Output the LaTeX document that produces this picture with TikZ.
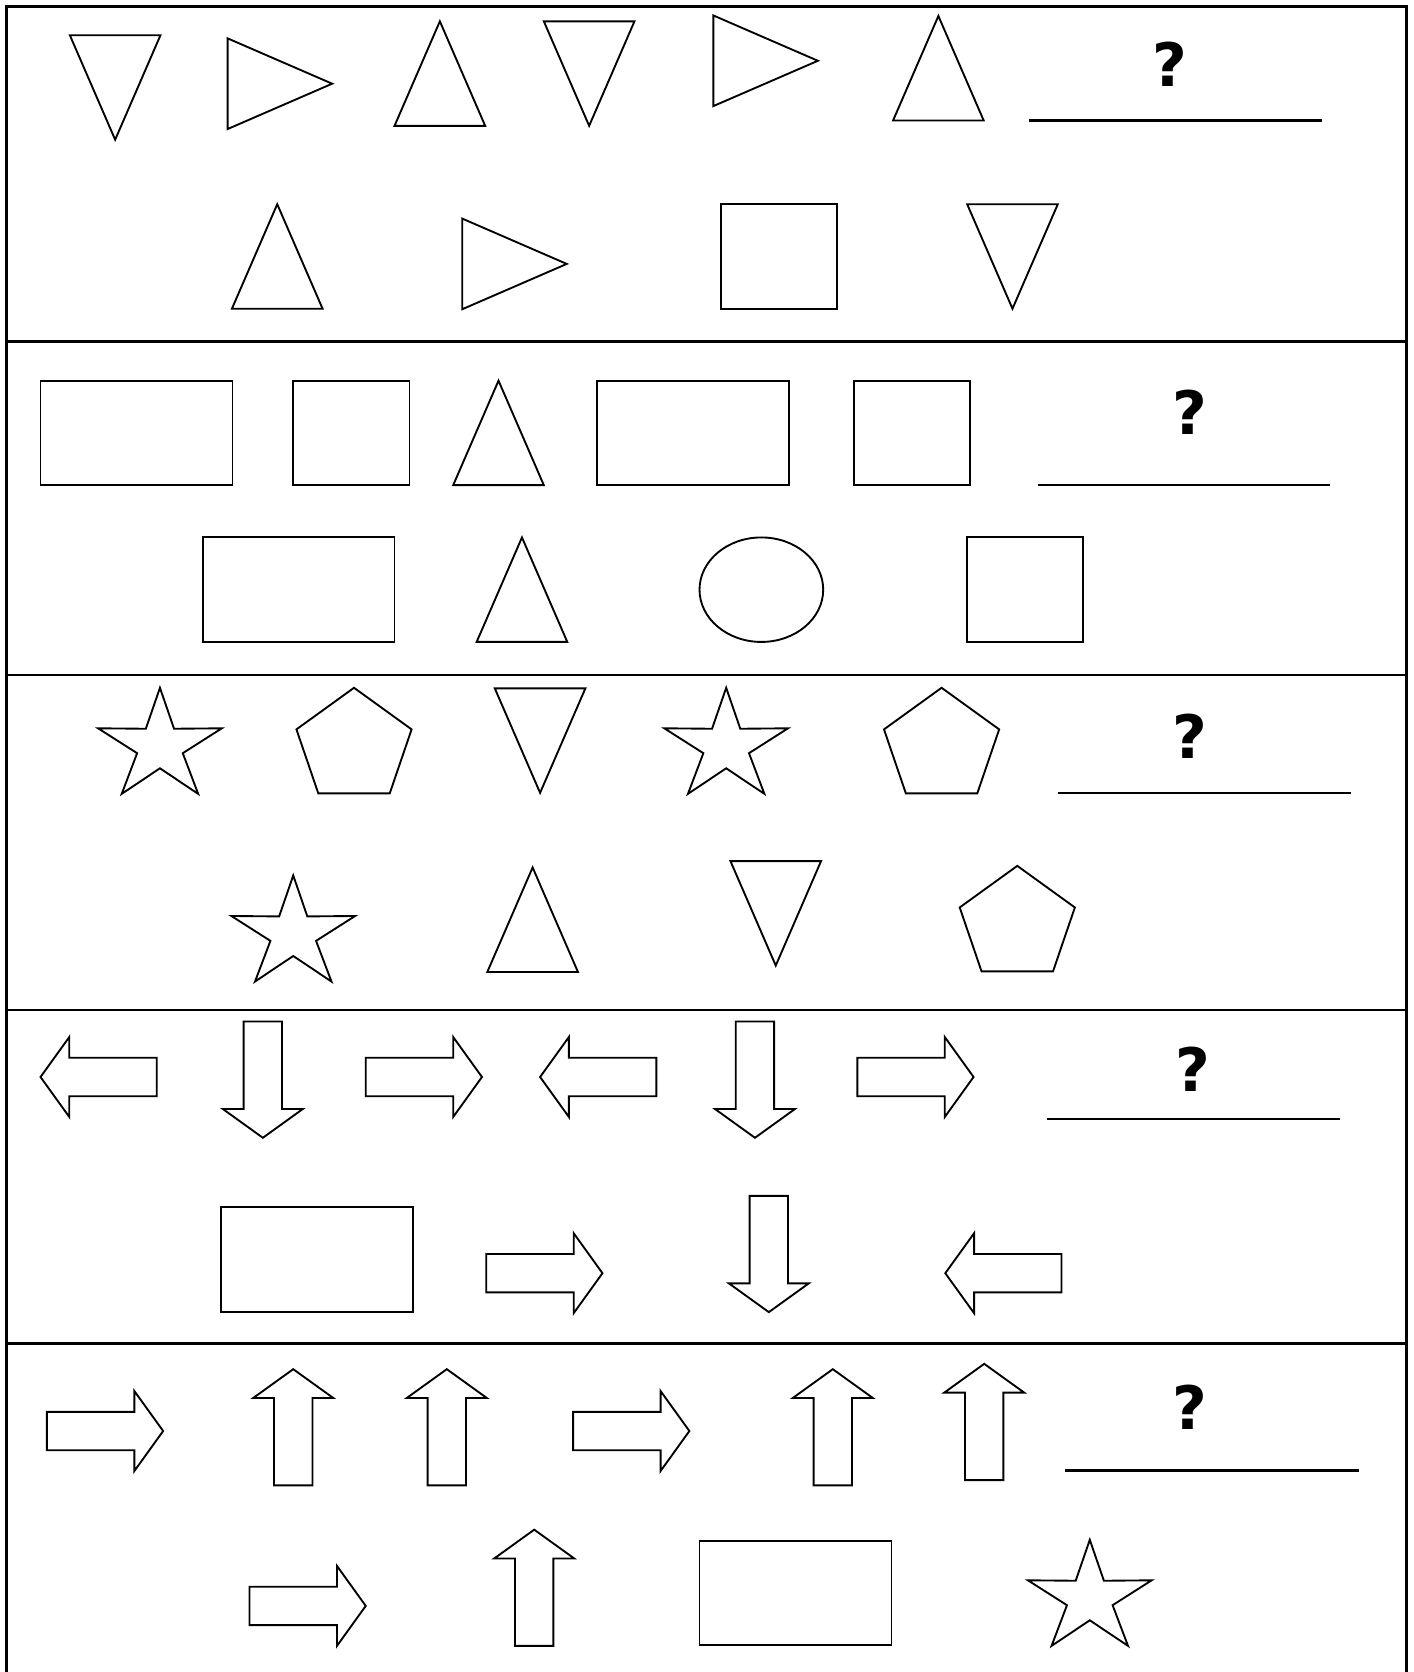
\documentclass[tikz,border=0pt]{standalone}
\usepackage{fontspec}
\setmainfont{DejaVu Sans}
\begin{document}
\begin{tikzpicture}[x=0.02cm,y=-0.02cm,
  outline/.style={draw=black,line width=1pt,line join=miter},
  frame/.style={black,line width=1.4pt},
  blank/.style={black,line width=1.1pt},
  query/.style={font=\fontsize{32}{36}\bfseries\selectfont,inner sep=0pt},
  wedge/.pic={\draw[outline] (-42.5,49) -- (0,-49) -- (42.5,49) -- cycle;},
  pointer/.pic={\draw[outline] (-54.5,-18) -- (27.5,-18) -- (27.5,-37.5) -- (54.5,0)
    -- (27.5,37.5) -- (27.5,18) -- (-54.5,18) -- cycle;},
  pentbox/.pic={\draw[outline] (0,-55) -- (54,-16) -- (33.5,44) -- (-33.5,44) -- (-54,-16) -- cycle;},
  starbox/.pic={\draw[outline] (-90:61 and 55)
    \foreach \k in {0,...,4}{ -- ({-54+72*\k}:22.5 and 20.5) -- ({-18+72*\k}:61 and 55)} -- cycle;}]
\useasboundingbox (0,0) rectangle (1326,1568);
% frame and panels
\draw[frame] (6,1570) -- (6,6) -- (1319,6) -- (1319,1570);
\foreach \y in {320,633,947,1260}
  \draw[frame] (6,\y) -- (1319,\y);
% panel 1
\pic[rotate=180] at (108,82) {wedge};
\pic[rotate=-90] at (262.5,78.5) {wedge};
\pic at (412.5,69) {wedge};
\pic[rotate=180] at (552.5,69) {wedge};
\pic[rotate=-90] at (718,57) {wedge};
\pic at (880,64) {wedge};
\node[query] (q1) at (1097,60) {?};
\draw[blank] (965,113) -- (1240,113);
\pic at (260,240.5) {wedge};
\pic[rotate=-90] at (482.5,247.5) {wedge};
\draw[outline] (676,191) rectangle (785,290);
\pic[rotate=180] at (949.5,240.5) {wedge};
% panel 2
\draw[outline] (38,357) rectangle (218,455);
\draw[outline] (275,357) rectangle (384,455);
\pic at (467.5,406) {wedge};
\draw[outline] (560,357) rectangle (740,455);
\draw[outline] (801,357) rectangle (910,455);
\node[query] (q2) at (1116,387) {?};
\draw[blank] (973,455) -- (1247,455);
\draw[outline] (190,504) rectangle (370,602);
\pic at (489.5,553) {wedge};
\draw[outline] (714,553) ellipse (58 and 49);
\draw[outline] (907,504) rectangle (1016,602);
% panel 3
\pic at (150,700) {starbox};
\pic at (332,700) {pentbox};
\pic[rotate=180] at (506.5,694.5) {wedge};
\pic at (681,700) {starbox};
\pic at (883,700) {pentbox};
\node[query] (q3) at (1116,690) {?};
\draw[blank] (992,744) -- (1267,744);
\pic at (275,876) {starbox};
\pic at (499.5,862.5) {wedge};
\pic[rotate=180] at (727.5,856.5) {wedge};
\pic at (954,867) {pentbox};
% panel 4
\pic[rotate=180] at (92.5,1010) {pointer};
\pic[rotate=-90] at (246.5,1012.5) {pointer};
\pic at (397.5,1010) {pointer};
\pic[rotate=180] at (561,1010) {pointer};
\pic[rotate=-90] at (708,1012.5) {pointer};
\pic at (858.5,1010) {pointer};
\node[query] (q4) at (1119,1003) {?};
\draw[blank] (982,1049) -- (1257,1049);
\draw[outline] (207,1132) rectangle (387,1230);
\pic at (510.5,1194) {pointer};
\pic[rotate=-90] at (721,1176) {pointer};
\pic[rotate=180] at (941,1194) {pointer};
% panel 5
\pic at (98.5,1342) {pointer};
\pic[rotate=90] at (275,1338.5) {pointer};
\pic[rotate=90] at (419,1338.5) {pointer};
\pic at (592,1342) {pointer};
\pic[rotate=90] at (781,1338.5) {pointer};
\pic[rotate=90] at (923,1333.5) {pointer};
\node[query] (q5) at (1116,1320) {?};
\draw[blank] (999,1379) -- (1274,1379);
\pic at (288.5,1506) {pointer};
\pic[rotate=90] at (501,1489) {pointer};
\draw[outline] (656,1445) rectangle (836,1543);
\pic at (1022,1499) {starbox};
\end{tikzpicture}
\end{document}
